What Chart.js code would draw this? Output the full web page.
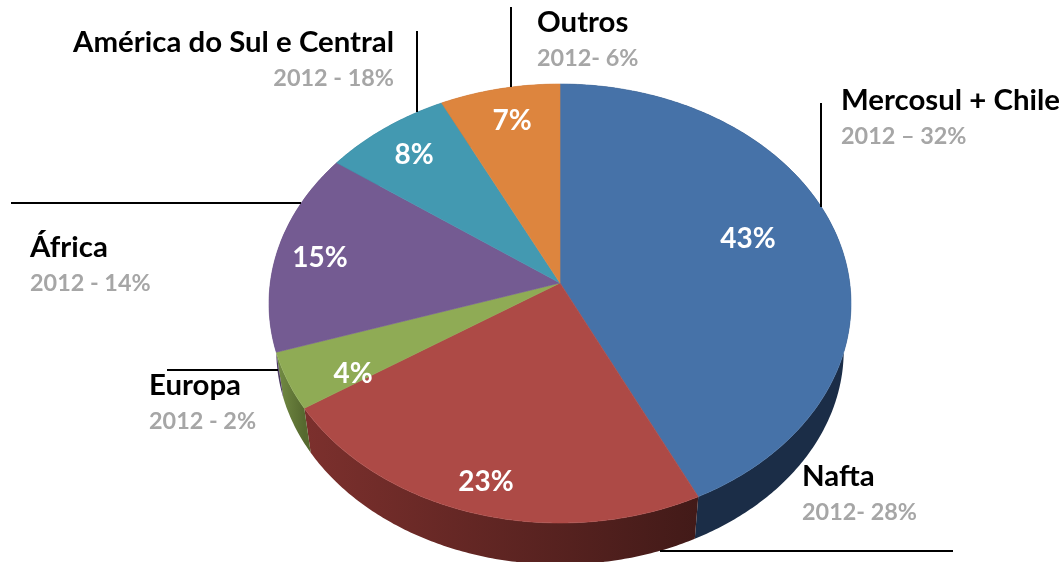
<!DOCTYPE html>
<html>
<head>
<meta charset="utf-8">
<title>Pie</title>
<style>
  html, body { margin: 0; padding: 0; background: #fff; overflow: hidden; }
  canvas { display: block; }
</style>
<script src="https://cdn.jsdelivr.net/npm/chart.js@4/dist/chart.umd.min.js"></script>
</head>
<body>
<canvas id="pieChart" width="1064" height="562"></canvas>
<script>
const regions = ['Mercosul + Chile', 'Nafta', 'Europa', 'África', 'América do Sul e Central', 'Outros'];
const share2013 = [42.8, 23.0, 4.2, 14.9, 7.8, 7.3];
const notes2012 = ['2012 – 32%', '2012- 28%', '2012 - 2%', '2012 - 14%', '2012 - 18%', '2012- 6%'];

const topColors = ['#4672a8', '#ad4a46', '#8fab55', '#745b92', '#4399b1', '#dd853e'];
const wallColors = [
  ['#1b2d47', '#1b2d47'],
  ['#7c302d', '#421a18'],
  ['#748d45', '#56692f'],
  ['#4d3b63', '#4d3b63'],
  ['#2a6577', '#2a6577'],
  ['#96592a', '#96592a']
];

// ellipse of the top face, b moves the apex off centre (perspective)
const pie = { cx: 560, cy: 303.5, rx: 291, ry: 219.5, b: 0.0934, depth: 47, shrink: 0.975 };

// [x, y, align] of the region name, sub label at y + 34
const nameSpots = [[841, 110, 'left'], [802, 486, 'left'], [149, 395, 'left'], [30, 257, 'left'], [394, 52, 'right'], [537, 32, 'left']];
const pctSpots = [[748, 239], [486, 482], [353, 374], [320, 258], [414, 155], [512, 121]];
const leaders = [
  [821, 103, 821, 207], [660, 551, 953, 551], [167, 370, 278, 370],
  [11, 203, 301, 203], [417, 31, 417, 112], [511, 7, 511, 87]
];

function project(angle, lower) {
  // angle comes from the arc element, -PI/2 is the top of the circle
  const u = Math.cos(angle), v = Math.sin(angle);
  const k = 1 - pie.b * v;
  const x = u * Math.sqrt(1 - pie.b * pie.b) / k;
  const y = (v - pie.b) / k;
  const s = lower ? pie.shrink : 1;
  return { x: pie.cx + pie.rx * x * s, y: pie.cy + pie.ry * y * s + (lower ? pie.depth : 0) };
}

function sample(start, end) {
  const pts = [];
  const steps = Math.max(2, Math.ceil((end - start) * 90));
  for (let i = 0; i <= steps; i++) pts.push(start + (end - start) * i / steps);
  return pts;
}

const pie3d = {
  id: 'pie3d',
  beforeDatasetsDraw(chart) {
    const ctx = chart.ctx;
    const arcs = chart.getDatasetMeta(0).data;

    // side walls first, tops go over them
    arcs.forEach((arc, i) => {
      const angles = sample(arc.startAngle, arc.endAngle);
      const top = angles.map(a => project(a, false));
      const low = angles.map(a => project(a, true)).reverse();
      const xs = top.map(p => p.x);
      const grad = ctx.createLinearGradient(Math.max(...xs), 0, Math.min(...xs), 0);
      grad.addColorStop(0, wallColors[i][1]);
      grad.addColorStop(1, wallColors[i][0]);
      ctx.beginPath();
      top.concat(low).forEach((p, j) => j ? ctx.lineTo(p.x, p.y) : ctx.moveTo(p.x, p.y));
      ctx.closePath();
      ctx.fillStyle = grad;
      ctx.fill();
    });

    arcs.forEach((arc, i) => {
      const apex = { x: pie.cx, y: pie.cy - pie.b * pie.ry };
      ctx.beginPath();
      ctx.moveTo(apex.x, apex.y);
      sample(arc.startAngle, arc.endAngle).forEach(a => {
        const p = project(a, false);
        ctx.lineTo(p.x, p.y);
      });
      ctx.closePath();
      ctx.fillStyle = topColors[i];
      ctx.strokeStyle = topColors[i];
      ctx.lineWidth = 0.6;
      ctx.fill();
      ctx.stroke();
    });
    return false;
  },
  // afterDatasetsDraw is skipped once the hook above returns false
  afterDraw(chart) {
    const ctx = chart.ctx;
    ctx.save();
    ctx.strokeStyle = '#000';
    ctx.lineWidth = 2;
    leaders.forEach(l => {
      ctx.beginPath();
      ctx.moveTo(l[0], l[1]);
      ctx.lineTo(l[2], l[3]);
      ctx.stroke();
    });

    ctx.textBaseline = 'alphabetic';
    regions.forEach((name, i) => {
      const [x, y, align] = nameSpots[i];
      ctx.textAlign = align;
      ctx.fillStyle = '#000';
      ctx.font = 'bold 29.4px Lato';
      ctx.fillText(name, x, y);
      ctx.fillStyle = '#a6a6a6';
      ctx.font = 'bold 23.4px Lato';
      ctx.fillText(notes2012[i], x, y + 34);
    });

    ctx.textAlign = 'center';
    ctx.textBaseline = 'middle';
    ctx.fillStyle = '#fff';
    ctx.font = 'bold 28px Lato';
    share2013.forEach((v, i) => ctx.fillText(Math.round(v) + '%', pctSpots[i][0], pctSpots[i][1]));
    ctx.restore();
  }
};

new Chart(document.getElementById('pieChart').getContext('2d'), {
  type: 'pie',
  data: {
    labels: regions,
    datasets: [{ data: share2013, backgroundColor: topColors, borderWidth: 0 }]
  },
  options: {
    responsive: false,
    animation: false,
    plugins: { legend: { display: false }, tooltip: { enabled: false } }
  },
  plugins: [pie3d]
});
</script>
</body>
</html>
